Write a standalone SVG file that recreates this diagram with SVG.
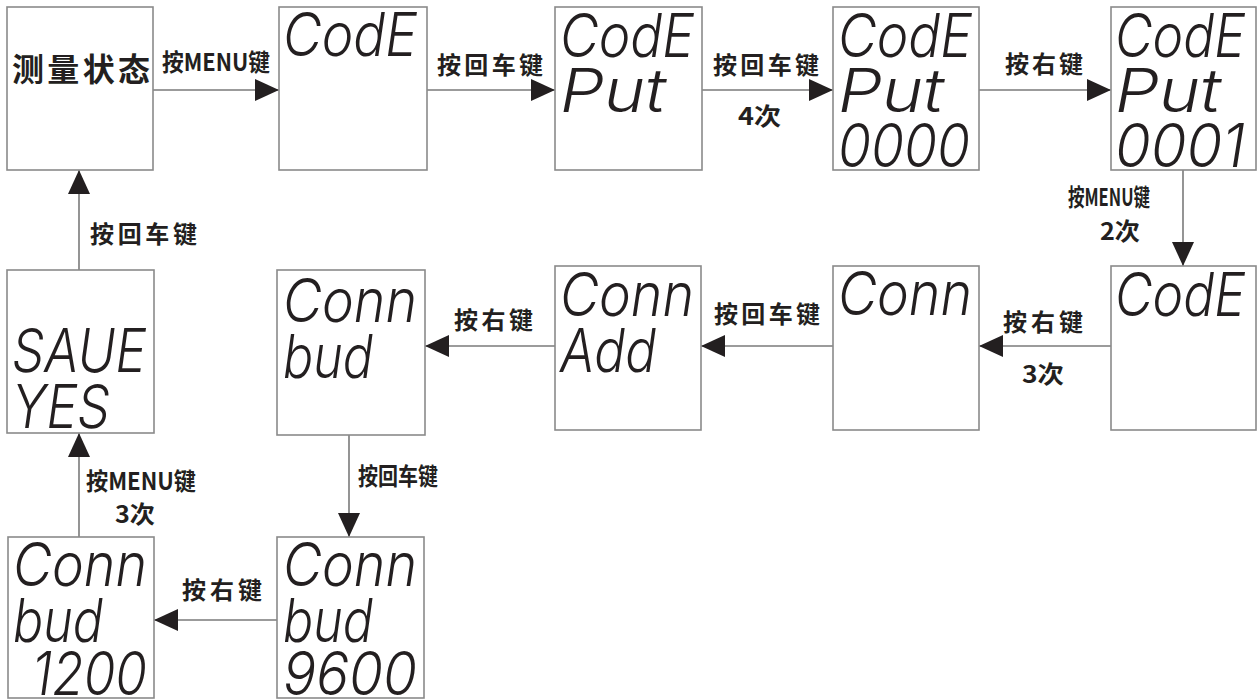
<svg xmlns="http://www.w3.org/2000/svg" width="1258" height="700" viewBox="0 0 1258 700">
<style>
.box{fill:#fff;stroke:#8a8a8a;stroke-width:1.6}
.ln{fill:none;stroke:#7a7a7a;stroke-width:1.6}
.lbl{font-family:"Noto Sans CJK SC","Liberation Sans",sans-serif;font-weight:bold;font-size:24px;fill:#231f20}
.seg{font-family:Inter,"DejaVu Sans",sans-serif;font-weight:300;font-style:italic;font-size:60px;fill:#231f20}
.big{font-family:"Noto Sans CJK SC",sans-serif;font-weight:bold;font-size:32px;fill:#231f20}
</style>
<defs>
<marker id="ah" markerUnits="userSpaceOnUse" markerWidth="24" markerHeight="22" refX="24" refY="11" orient="auto">
<path d="M0,0 L24,11 L0,22 Z" fill="#231f20"/>
</marker>
</defs>
<rect width="1258" height="700" fill="#fff"/>

<g id="connectors">
<line class="ln" x1="153" y1="90" x2="279" y2="90" marker-end="url(#ah)"/>
<line class="ln" x1="427" y1="90" x2="555" y2="90" marker-end="url(#ah)"/>
<line class="ln" x1="702" y1="90" x2="833" y2="90" marker-end="url(#ah)"/>
<line class="ln" x1="979" y1="90" x2="1111" y2="90" marker-end="url(#ah)"/>
<line class="ln" x1="1183" y1="170" x2="1183" y2="266" marker-end="url(#ah)"/>
<line class="ln" x1="1111" y1="346" x2="979" y2="346" marker-end="url(#ah)"/>
<line class="ln" x1="833" y1="346" x2="701" y2="346" marker-end="url(#ah)"/>
<line class="ln" x1="555" y1="346" x2="425" y2="346" marker-end="url(#ah)"/>
<line class="ln" x1="349" y1="435" x2="349" y2="537" marker-end="url(#ah)"/>
<line class="ln" x1="277" y1="620" x2="154" y2="620" marker-end="url(#ah)"/>
<line class="ln" x1="79" y1="537" x2="79" y2="433" marker-end="url(#ah)"/>
<line class="ln" x1="79" y1="270" x2="79" y2="170" marker-end="url(#ah)"/>
<text class="lbl" x="162" y="71" textLength="108" lengthAdjust="spacingAndGlyphs">按MENU键</text>
<text class="lbl" x="437" y="74" textLength="106" lengthAdjust="spacing">按回车键</text>
<text class="lbl" x="713" y="74" textLength="106" lengthAdjust="spacing">按回车键</text>
<text class="lbl" x="738" y="125" textLength="43" lengthAdjust="spacingAndGlyphs">4次</text>
<text class="lbl" x="1005" y="73" textLength="78" lengthAdjust="spacing">按右键</text>
<text class="lbl" x="1068" y="206" textLength="82" lengthAdjust="spacingAndGlyphs">按MENU键</text>
<text class="lbl" x="1100" y="240" textLength="40" lengthAdjust="spacingAndGlyphs">2次</text>
<text class="lbl" x="1003" y="331" textLength="80" lengthAdjust="spacing">按右键</text>
<text class="lbl" x="1022" y="383" textLength="42" lengthAdjust="spacingAndGlyphs">3次</text>
<text class="lbl" x="714" y="323" textLength="106" lengthAdjust="spacing">按回车键</text>
<text class="lbl" x="454" y="329" textLength="79" lengthAdjust="spacing">按右键</text>
<text class="lbl" x="358" y="485" textLength="80" lengthAdjust="spacingAndGlyphs">按回车键</text>
<text class="lbl" x="182" y="599" textLength="80" lengthAdjust="spacing">按右键</text>
<text class="lbl" x="86" y="490" textLength="110" lengthAdjust="spacingAndGlyphs">按MENU键</text>
<text class="lbl" x="115" y="523" textLength="40" lengthAdjust="spacingAndGlyphs">3次</text>
<text class="lbl" x="90" y="243" textLength="107" lengthAdjust="spacing">按回车键</text>
</g>

<g id="n1"><rect class="box" x="7" y="7" width="146" height="163"/>
<text class="big" x="12" y="81" textLength="138" lengthAdjust="spacing">测量状态</text></g>

<g id="n2"><rect class="box" x="279" y="7" width="148" height="163"/>
<text class="seg" x="283" y="56" textLength="134" lengthAdjust="spacingAndGlyphs">CodE</text></g>

<g id="n3"><rect class="box" x="555" y="7" width="147" height="163"/>
<text class="seg" x="560" y="57" textLength="134" lengthAdjust="spacingAndGlyphs">CodE</text>
<text class="seg" x="560" y="112" textLength="106" lengthAdjust="spacingAndGlyphs">Put</text></g>

<g id="n4"><rect class="box" x="833" y="7" width="146" height="163"/>
<text class="seg" x="838" y="57" textLength="134" lengthAdjust="spacingAndGlyphs">CodE</text>
<text class="seg" x="838" y="112" textLength="106" lengthAdjust="spacingAndGlyphs">Put</text>
<text class="seg" x="838" y="167" textLength="132" lengthAdjust="spacingAndGlyphs">0000</text></g>

<g id="n5"><rect class="box" x="1111" y="7" width="145" height="163"/>
<text class="seg" x="1115" y="57" textLength="130" lengthAdjust="spacingAndGlyphs">CodE</text>
<text class="seg" x="1115" y="112" textLength="106" lengthAdjust="spacingAndGlyphs">Put</text>
<text class="seg" x="1115" y="167" textLength="130" lengthAdjust="spacingAndGlyphs">0001</text></g>

<g id="n6"><rect class="box" x="1111" y="266" width="145" height="164"/>
<text class="seg" x="1115" y="316" textLength="130" lengthAdjust="spacingAndGlyphs">CodE</text></g>

<g id="n7"><rect class="box" x="833" y="266" width="146" height="164"/>
<text class="seg" x="838" y="315" textLength="134" lengthAdjust="spacingAndGlyphs">Conn</text></g>

<g id="n8"><rect class="box" x="555" y="266" width="146" height="164"/>
<text class="seg" x="560" y="316" textLength="134" lengthAdjust="spacingAndGlyphs">Conn</text>
<text class="seg" x="560" y="372" textLength="96" lengthAdjust="spacingAndGlyphs">Add</text></g>

<g id="n9"><rect class="box" x="277" y="270" width="148" height="165"/>
<text class="seg" x="283" y="322" textLength="134" lengthAdjust="spacingAndGlyphs">Conn</text>
<text class="seg" x="283" y="378" textLength="90" lengthAdjust="spacingAndGlyphs">bud</text></g>

<g id="n10"><rect class="box" x="7" y="270" width="147" height="163"/>
<text class="seg" x="12" y="372" textLength="134" lengthAdjust="spacingAndGlyphs">SAUE</text>
<text class="seg" x="12" y="428" textLength="98" lengthAdjust="spacingAndGlyphs">YES</text></g>

<g id="n11"><rect class="box" x="277" y="537" width="147" height="161"/>
<text class="seg" x="283" y="586" textLength="134" lengthAdjust="spacingAndGlyphs">Conn</text>
<text class="seg" x="283" y="642" textLength="90" lengthAdjust="spacingAndGlyphs">bud</text>
<text class="seg" x="283" y="695" textLength="134" lengthAdjust="spacingAndGlyphs">9600</text></g>

<g id="n12"><rect class="box" x="8" y="537" width="146" height="161"/>
<text class="seg" x="13" y="586" textLength="134" lengthAdjust="spacingAndGlyphs">Conn</text>
<text class="seg" x="13" y="642" textLength="90" lengthAdjust="spacingAndGlyphs">bud</text>
<text class="seg" x="32" y="695" textLength="115" lengthAdjust="spacingAndGlyphs">1200</text></g>
</svg>
